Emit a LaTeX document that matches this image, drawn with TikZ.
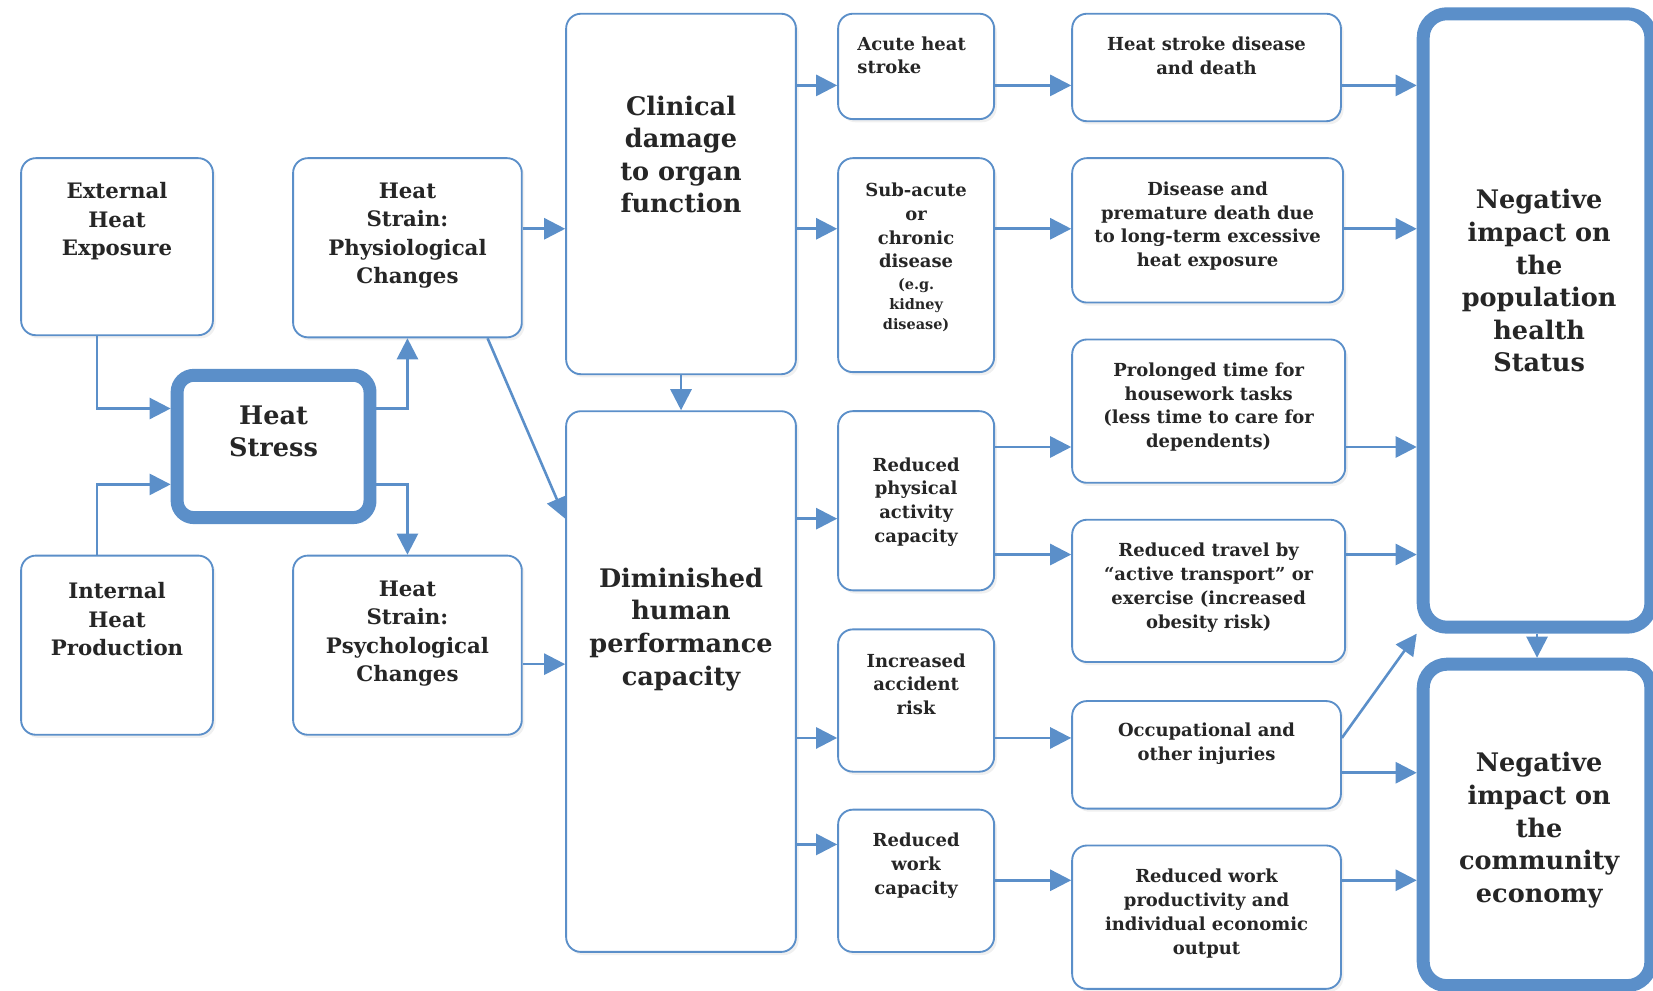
\documentclass[tikz,border=0pt]{standalone}
\usepackage{fontspec}
\setmainfont{DejaVu Serif}
\usetikzlibrary{arrows.meta,calc,positioning,shadows}
\definecolor{heatblue}{HTML}{5B8FC9}
\definecolor{ink}{HTML}{262626}

\begin{document}
\begin{tikzpicture}[x=0.02cm, y=-0.02cm, >={Triangle[length=0.40cm, width=0.40cm]},
    box/.style={draw=heatblue, line width=1pt, fill=white, rounded corners=0.28cm, inner sep=0pt,
      drop shadow={shadow xshift=0.05cm, shadow yshift=-0.06cm, opacity=0.12}},
    bigbox/.style={box, line width=7pt, rounded corners=0.45cm},
    arr/.style={->, draw=heatblue, line width=1.4pt},
    txt/.style={align=center, text=ink, inner sep=0pt, font=\bfseries\fontsize{9.7}{12.8}\selectfont},
    egtxt/.style={txt, font=\bfseries\fontsize{7.8}{10.8}\selectfont},
    midtxt/.style={txt, font=\bfseries\fontsize{11.5}{15.4}\selectfont},
    bigtxt/.style={txt, font=\bfseries\fontsize{13.8}{17.6}\selectfont}]
  \useasboundingbox (0,0) rectangle (1568,940);
  % rows of the horizontal arrows
  \foreach \r/\y in {r1/81, r2/217, r3/424, r4/492, r5/526, r6/630, r7/700, r8/733, r9/801, r10/835}
    \coordinate (\r) at (0,\y);
  % causes and heat stress
  \node[box, minimum width=3.64cm, minimum height=3.36cm] (ext) at (111,234) {};
  \node[box, minimum width=3.64cm, minimum height=3.40cm] (int) at (111,612) {};
  \node[bigbox, rounded corners=0.32cm, minimum width=3.66cm, minimum height=2.70cm] (hs) at (259.5,423.5) {};
  \node[box, minimum width=4.34cm, minimum height=3.40cm] (phys) at (386.5,235) {};
  \node[box, minimum width=4.34cm, minimum height=3.40cm] (psych) at (386.5,612) {};
  \node[midtxt] (extT) at (111,210) {External\\Heat\\Exposure};
  \node[midtxt] (intT) at (111,587.5) {Internal\\Heat\\Production};
  \node[bigtxt] (hsT) at (259.5,409) {Heat\\Stress};
  \node[midtxt] (physT) at (386.5,223.5) {Heat\\Strain:\\Physiological\\Changes};
  \node[midtxt] (psychT) at (386.5,601) {Heat\\Strain:\\Psychological\\Changes};
  % clinical damage and performance
  \node[box, minimum width=4.36cm, minimum height=6.84cm] (clin) at (646,184) {};
  \node[box, minimum width=4.36cm, minimum height=10.26cm] (dim) at (646,646.5) {};
  \node[bigtxt] (clinT) at (646,146.5) {Clinical\\damage\\to organ\\function};
  \node[bigtxt] (dimT) at (646,597) {Diminished\\human\\performance\\capacity};
  % direct effects
  \node[box, minimum width=2.96cm, minimum height=2.00cm] (acute) at (869,63) {};
  \node[box, minimum width=2.96cm, minimum height=4.06cm] (sub) at (869,251.5) {};
  \node[box, minimum width=2.96cm, minimum height=3.40cm] (rphys) at (869,475) {};
  \node[box, minimum width=2.96cm, minimum height=2.70cm] (acc) at (869,664.5) {};
  \node[box, minimum width=2.96cm, minimum height=2.70cm] (rwork) at (869,835.5) {};
  \node[txt, align=left, anchor=west] (acuteT) at (813,52.5) {Acute heat\\stroke};
  \node[txt] (subT) at (869,214) {Sub-acute\\or\\chronic\\disease};
  \node[egtxt] (subE) at (869,289) {(e.g.\\kidney\\disease)};
  \node[txt] (rphysT) at (869,476) {Reduced\\physical\\activity\\capacity};
  \node[txt] (accT) at (869,649) {Increased\\accident\\risk};
  \node[txt] (rworkT) at (869,821) {Reduced\\work\\capacity};
  % outcomes
  \node[box, minimum width=5.10cm, minimum height=2.04cm] (hsd) at (1144.5,64) {};
  \node[box, minimum width=5.14cm, minimum height=2.74cm] (dpd) at (1145.5,218.5) {};
  \node[box, minimum width=5.18cm, minimum height=2.72cm] (prol) at (1146.5,390) {};
  \node[box, minimum width=5.18cm, minimum height=2.70cm] (trav) at (1146.5,560.5) {};
  \node[box, minimum width=5.10cm, minimum height=2.04cm] (occ) at (1144.5,716) {};
  \node[box, minimum width=5.10cm, minimum height=2.72cm] (rwp) at (1144.5,870) {};
  \node[txt] (hsdT) at (1144.5,53) {Heat stroke disease\\and death};
  \node[txt] (dpdT) at (1145.5,214.5) {Disease and\\premature death due\\to long-term excessive\\heat exposure};
  \node[txt] (prolT) at (1146.5,386) {Prolonged time for\\housework tasks\\(less time to care for\\dependents)};
  \node[txt] (travT) at (1146.5,557.5) {Reduced travel by\\“active transport” or\\exercise (increased\\obesity risk)};
  \node[txt] (occT) at (1144.5,705.5) {Occupational and\\other injuries};
  \node[txt] (rwpT) at (1144.5,866.5) {Reduced work\\productivity and\\individual economic\\output};
  % impacts
  \node[bigbox, minimum width=4.32cm, minimum height=11.64cm] (pop) at (1458,304) {};
  \node[bigbox, minimum width=4.32cm, minimum height=6.10cm] (econ) at (1458,782.5) {};
  \node[bigtxt] (popT) at (1460,266.5) {Negative\\impact on\\the\\population\\health\\Status};
  \node[bigtxt] (econT) at (1460,787.5) {Negative\\impact on\\the\\community\\economy};
  % arrows
  \draw[arr] ($(ext.south)+(-19,0)$) |- ($(hs.west)+(0,-36)$);
  \draw[arr] ($(int.north)+(-19,0)$) |- ($(hs.west)+(0,36)$);
  \draw[arr] ($(hs.east)+(0,-36)$) -| (phys.south);
  \draw[arr] ($(hs.east)+(0,36)$) -| (psych.north);
  \draw[arr] ($(phys.south)+(76,0)$) -- (dim.west |- r4);
  \draw[arr] (clin.south) -- (dim.north);
  \foreach \a/\b/\r in {phys/clin/r2, psych/dim/r6, clin/acute/r1, clin/sub/r2, dim/rphys/r4,
      dim/acc/r7, dim/rwork/r9, acute/hsd/r1, sub/dpd/r2, rphys/prol/r3, rphys/trav/r5,
      acc/occ/r7, rwork/rwp/r10, hsd/pop/r1, dpd/pop/r2, prol/pop/r3, trav/pop/r5,
      occ/econ/r8, rwp/econ/r10}
    \draw[arr] (\a.east |- \r) -- (\b.west |- \r);
  \draw[arr] (occ.east |- r7) -- (pop.south west);
  \draw[arr] (pop.south) -- (econ.north);
\end{tikzpicture}
\end{document}
